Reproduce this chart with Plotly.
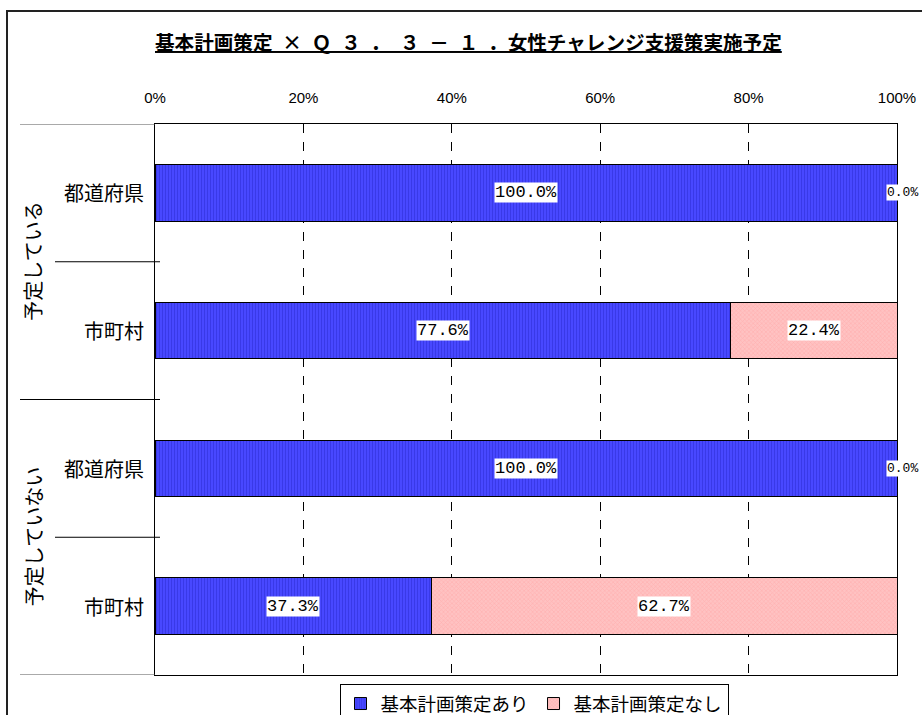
import plotly.graph_objects as go

title = "基本計画策定\u2002×\u2002Ｑ\u2002３\u2002．\u2002３\u2002－\u2002１\u2002．女性チャレンジ支援策実施予定"
groups = ["予定している", "予定していない"]
categories = ["都道府県", "市町村", "都道府県", "市町村"]
series_names = ["基本計画策定あり", "基本計画策定なし"]
with_plan = [100.0, 77.6, 100.0, 37.3]
without_plan = [0.0, 22.4, 0.0, 62.7]
tick_vals = [0, 20, 40, 60, 80, 100]
tick_text = ["0%", "20%", "40%", "60%", "80%", "100%"]

CJK = "Noto Sans CJK JP"
MONO = "Liberation Mono"
y_pos = list(range(len(categories)))

fig = go.Figure()
fig.add_trace(go.Bar(
    y=y_pos, x=with_plan, orientation="h", name=series_names[0], width=0.41,
    marker=dict(color="#4343ff", line=dict(color="black", width=1),
                pattern=dict(shape="|", size=3, solidity=0.35,
                             fgcolor="#2a2ad0", bgcolor="#4848ff")),
    hoverinfo="x",
))
fig.add_trace(go.Bar(
    y=y_pos, x=without_plan, orientation="h", name=series_names[1], width=0.41,
    marker=dict(color="#ffbcbc", line=dict(color="black", width=1),
                pattern=dict(shape="x", size=3, solidity=0.3,
                             fgcolor="#ff9696", bgcolor="#ffc2c2")),
    hoverinfo="x",
))

ann = []
# data labels
for i, (a, b) in enumerate(zip(with_plan, without_plan)):
    ann.append(dict(x=a / 2, y=i, xref="x", yref="y", text=f"{a:.1f}%",
                    showarrow=False, bgcolor="white", borderpad=0,
                    font=dict(family=MONO, size=17, color="black")))
    if b > 0:
        ann.append(dict(x=a + b / 2, y=i, xref="x", yref="y", text=f"{b:.1f}%",
                        showarrow=False, bgcolor="white", borderpad=0,
                        font=dict(family=MONO, size=17, color="black")))
    else:
        ann.append(dict(x=a + b, y=i, xref="x", yref="y", text=f"{b:.1f}%",
                        showarrow=False, bgcolor="white", borderpad=0,
                        xanchor="right", xshift=22,
                        font=dict(family=MONO, size=13, color="black")))
# category labels
for i, c in enumerate(categories):
    ann.append(dict(x=0, y=i, xref="paper", yref="y", text=c, showarrow=False,
                    xanchor="right", xshift=-9,
                    font=dict(family=CJK, size=20, color="black")))
# group labels (rotated)
for g, name in enumerate(groups):
    ann.append(dict(x=(33 - 155) / 742, y=2 * g + 0.5, xref="paper", yref="y", text=name,
                    showarrow=False, textangle=-90, xanchor="center", yanchor="middle",
                    font=dict(family=CJK, size=20, color="black")))
# title
ann.append(dict(x=(468 - 155) / 742, y=1 + (124 - 42) / 551, xref="paper", yref="paper",
                text=f"<b><u>{title}</u></b>", showarrow=False,
                xanchor="center", yanchor="middle",
                font=dict(family=CJK, size=19.6, color="black")))

shapes = []
xl_in = (55 - 155) / 742
xl_out = (20 - 155) / 742
xr = (160 - 155) / 742
for yv, xl, x1, col in [(-0.5, xl_out, 0, "#555555"), (0.5, xl_in, xr, "black"),
                        (1.5, xl_out, xr, "black"), (2.5, xl_in, xr, "black"),
                        (3.5, xl_out, 0, "#555555")]:
    shapes.append(dict(type="line", xref="paper", yref="y", x0=xl, x1=x1,
                       y0=yv, y1=yv, line=dict(color=col, width=1)))
# outer frame
shapes.append(dict(type="rect", xref="paper", yref="paper",
                   x0=(7 - 155) / 742, x1=1.06, y0=-0.2, y1=1 + (124 - 11) / 551,
                   line=dict(color="#222222", width=2), layer="below"))

fig.update_layout(
    width=922, height=715,
    margin=dict(l=155, r=25, t=124, b=40, autoexpand=False),
    paper_bgcolor="white", plot_bgcolor="white",
    barmode="stack", bargap=0.59,
    showlegend=True,
    legend=dict(orientation="h", x=(534 - 155) / 742, xanchor="center",
                y=-(684 - 675) / 551, yanchor="top",
                bordercolor="black", borderwidth=1, bgcolor="white",
                font=dict(family=CJK, size=18.5, color="black"),
                itemwidth=30, traceorder="normal", tracegroupgap=0),
    xaxis=dict(side="top", range=[0, 100], tickvals=tick_vals, ticktext=tick_text,
               showgrid=True, gridcolor="black", griddash="dash", gridwidth=1,
               showline=True, mirror=True, linecolor="black", linewidth=1,
               ticks="", zeroline=False, automargin=False, ticklabelstandoff=14,
               tickfont=dict(family="Liberation Sans", size=15, color="black")),
    yaxis=dict(range=[3.5, -0.5], showticklabels=False, showgrid=False,
               showline=True, mirror=True, linecolor="black", linewidth=1,
               zeroline=False, ticks="", automargin=False),
    annotations=ann, shapes=shapes,
)

fig.write_html("out.html")
